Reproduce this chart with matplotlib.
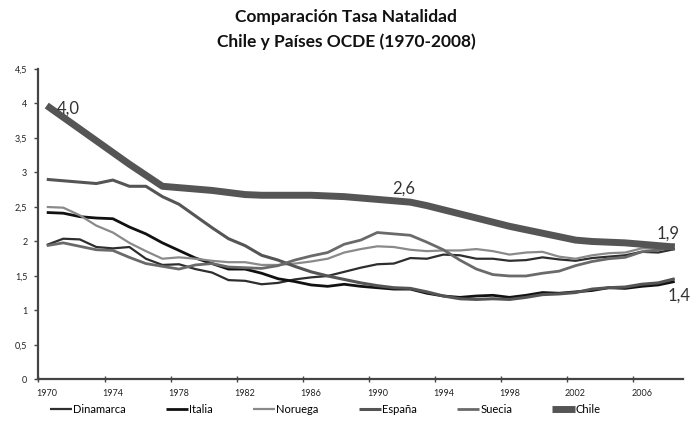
import matplotlib
matplotlib.use("Agg")
import matplotlib.pyplot as plt
from matplotlib.ticker import FixedLocator

plt.rcParams['font.family'] = ['Lato', 'DejaVu Sans']

years = list(range(1970, 2009))

dinamarca = [1.95, 2.04, 2.03, 1.92, 1.90, 1.92, 1.75, 1.66, 1.67, 1.60,
             1.55, 1.44, 1.43, 1.38, 1.40, 1.45, 1.48, 1.50, 1.56, 1.62,
             1.67, 1.68, 1.76, 1.75, 1.81, 1.80, 1.75, 1.75, 1.72, 1.73,
             1.77, 1.74, 1.72, 1.76, 1.78, 1.80, 1.85, 1.84, 1.89]
italia = [2.42, 2.41, 2.36, 2.34, 2.33, 2.21, 2.11, 1.98, 1.87, 1.76,
          1.68, 1.60, 1.60, 1.54, 1.46, 1.42, 1.37, 1.35, 1.38, 1.35,
          1.33, 1.31, 1.31, 1.25, 1.21, 1.19, 1.21, 1.22, 1.19, 1.22,
          1.26, 1.25, 1.27, 1.29, 1.33, 1.32, 1.35, 1.37, 1.42]
noruega = [2.50, 2.49, 2.38, 2.23, 2.13, 1.98, 1.86, 1.75, 1.77, 1.75,
           1.72, 1.70, 1.70, 1.66, 1.66, 1.68, 1.71, 1.75, 1.84, 1.89,
           1.93, 1.92, 1.88, 1.86, 1.87, 1.87, 1.89, 1.86, 1.81, 1.84,
           1.85, 1.78, 1.75, 1.80, 1.83, 1.84, 1.90, 1.90, 1.96]
espana = [2.90, 2.88, 2.86, 2.84, 2.89, 2.80, 2.80, 2.65, 2.54, 2.37,
          2.20, 2.04, 1.94, 1.80, 1.73, 1.64, 1.56, 1.50, 1.45, 1.40,
          1.36, 1.33, 1.32, 1.27, 1.21, 1.17, 1.16, 1.17, 1.16, 1.19,
          1.23, 1.24, 1.26, 1.31, 1.33, 1.34, 1.38, 1.40, 1.46]
suecia = [1.94, 1.98, 1.93, 1.88, 1.87, 1.77, 1.68, 1.64, 1.60, 1.66,
          1.68, 1.63, 1.62, 1.61, 1.65, 1.73, 1.79, 1.84, 1.96, 2.02,
          2.13, 2.11, 2.09, 1.99, 1.88, 1.73, 1.60, 1.52, 1.50, 1.50,
          1.54, 1.57, 1.65, 1.71, 1.75, 1.77, 1.85, 1.88, 1.91]
chile = [3.97, 3.80, 3.63, 3.46, 3.29, 3.12, 2.96, 2.80, 2.78, 2.76,
         2.74, 2.71, 2.68, 2.67, 2.67, 2.67, 2.67, 2.66, 2.65, 2.63,
         2.61, 2.59, 2.57, 2.52, 2.46, 2.40, 2.34, 2.28, 2.22, 2.17,
         2.12, 2.07, 2.02, 2.00, 1.99, 1.98, 1.96, 1.94, 1.92]

series_names = ["Dinamarca", "Italia", "Noruega", "España", "Suecia", "Chile"]
series_values = [dinamarca, italia, noruega, espana, suecia, chile]
series_colors = ["#2e2e2e", "#111111", "#8a8a8a", "#555555", "#6a6a6a", "#555555"]
series_widths = [1.6, 2.0, 1.6, 2.2, 2.0, 5.0]

y_ticks = [0, 0.5, 1, 1.5, 2, 2.5, 3, 3.5, 4, 4.5]
y_tick_labels = ["0", "0,5", "1", "1,5", "2", "2,5", "3", "3,5", "4", "4,5"]
x_label_years = [1970, 1974, 1978, 1982, 1986, 1990, 1994, 1998, 2002, 2006]

annotations = [("4,0", 1970.6, 3.93, 'left'), ("2,6", 1991.6, 2.76, 'center'),
               ("1,9", 2007.6, 2.12, 'center'), ("1,4", 2008.95, 1.22, 'right')]

fig = plt.figure(figsize=(6.92, 4.38), dpi=100)
ax = fig.add_axes([0.0556, 0.1336, 0.9314, 0.7089])

for name, vals, col, lw in zip(series_names, series_values, series_colors, series_widths):
    ax.plot(years, vals, color=col, lw=lw, label=name, solid_capstyle='butt',
            solid_joinstyle='round')

ax.set_xlim(1969.5, 2008.5)
ax.set_ylim(0, 4.5)
ax.set_yticks(y_ticks)
ax.set_yticklabels(y_tick_labels)
ax.xaxis.set_major_locator(FixedLocator([y - 0.5 for y in x_label_years]))
ax.xaxis.set_minor_locator(FixedLocator(x_label_years))
ax.set_xticklabels([])
ax.set_xticklabels([str(y) for y in x_label_years], minor=True)
ax.tick_params(axis='x', which='major', direction='inout', length=5, width=1, color='#444444')
ax.tick_params(axis='x', which='minor', length=0, labelsize=6.5, pad=7, labelcolor='#222222')
ax.tick_params(axis='y', direction='out', length=3, width=1, color='#444444',
               labelsize=6.5, pad=5, labelcolor='#222222')

for s in ['top', 'right']:
    ax.spines[s].set_visible(False)
for s in ['left', 'bottom']:
    ax.spines[s].set_color('#444444')
    ax.spines[s].set_linewidth(1.6)

for txt, xv, yv, ha in annotations:
    ax.text(xv, yv, txt, fontsize=12, ha=ha, va='center', color='#333333',
            clip_on=False)

fig.text(0.5, 0.962, "Comparación Tasa Natalidad", ha='center', va='center',
         fontsize=12.5, fontweight='bold', color='#111111')
fig.text(0.5, 0.905, "Chile y Países OCDE (1970-2008)", ha='center', va='center',
         fontsize=12.5, fontweight='bold', color='#111111')

fig.legend(loc='center', bbox_to_anchor=(0.47, 0.066), ncol=6, frameon=False,
           fontsize=8, handlelength=2.0, handletextpad=0.1, columnspacing=3.6)

fig.savefig("out.png", dpi=100, facecolor='white')
